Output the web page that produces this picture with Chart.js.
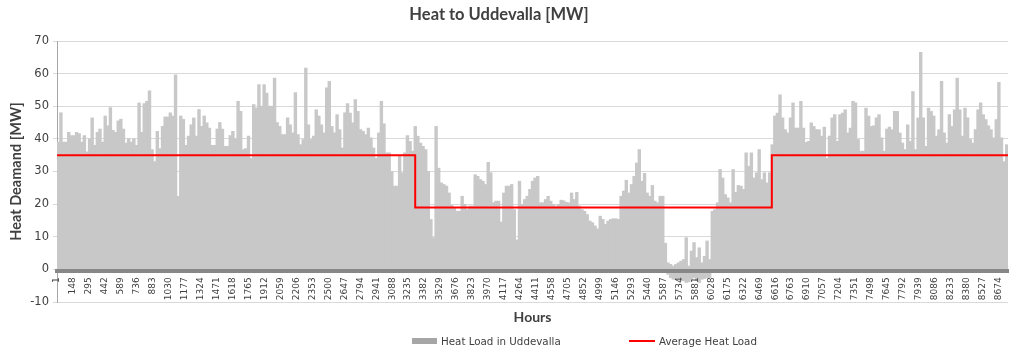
<!DOCTYPE html>
<html>
<head>
<meta charset="utf-8">
<script src="https://cdn.jsdelivr.net/npm/chart.js@4/dist/chart.umd.min.js"></script>
<style>
  html, body { margin: 0; padding: 0; background: #ffffff; }
  #wrap { position: relative; width: 1024px; height: 352px; overflow: hidden; }
  #c { position: absolute; left: 0; top: 0; }
  #title { position: absolute; left: 0; top: 4px; width: 998px; text-align: center;
           font: bold 16.5px Lato, sans-serif; color: #404040; line-height: 20px; }
  .lg-swatch { position: absolute; }
  .lg-text { position: absolute; font: 10.3px "DejaVu Sans", sans-serif; color: #404040; line-height: 12px; white-space: nowrap; }
</style>
</head>
<body>
<div id="wrap">
  <canvas id="c" width="1024" height="352"></canvas>
  <div id="title">Heat to Uddevalla [MW]</div>
  <div id="legend"></div>
</div>
<script>
// ---- data ----
// Daily peak heat load [MW], one value per day of the year (hour 1..8760)
const dayMax = [
  39, 48, 39, 39, 42, 41, 41, 42, 41.6, 39,
  41, 36, 40, 46.4, 38, 42, 43, 39, 47, 44,
  49.6, 42.6, 42, 45.5, 46, 43, 38.7, 40, 39, 40,
  38, 51, 42, 50.8, 51.5, 54.7, 36.7, 33, 42.3, 37,
  43.8, 46.7, 46.7, 48, 47, 59.6, 22.4, 47, 46, 38,
  40.8, 44.3, 46.4, 40.8, 49, 43.8, 47, 44.9, 43.3, 38,
  38, 43,
  45, 43, 37.7, 37.7, 41, 42.3, 40, 51.5,
  48.4, 36.7, 37, 40.8, 34, 50.5, 49.4, 56.6, 50, 56.6,
  54, 50, 50, 58.6, 45, 43.8, 41.3, 41.3, 46.4, 44.3,
  41.8, 54.2, 41.3, 38.2, 39.8, 61.7, 44.3, 39.8, 40.8, 48.9,
  47, 44.3, 41.8, 55.6, 57.6, 43.8, 41.8, 47.4, 42.8, 37.2,
  48, 50.8, 47.9, 44.9, 52, 48.4, 42.8, 42.3, 41.3, 43.3,
  40.3, 37.2, 34, 41.8, 51.5, 44.6, 35.7, 35.7, 30, 25.5,
  25.5, 34.7, 29.6, 35.7, 41, 39.2, 36.2, 43.8, 40.8,
  38.7, 37.7, 36.7, 30, 15.3, 9.7, 43.8, 31, 26.5, 26, 25.5,
  23.4, 19.6, 18.9, 17.8, 17.8, 22.4, 19.9, 18.3, 19.4, 19.4,
  29, 28.5, 27.5, 27, 26, 32.8, 29.6, 20.4, 20.9, 20.9,
  14.5, 23.4, 25.5, 25.5, 26, 18.3, 9, 27, 19.9, 21.4,
  22.4, 24.5, 27, 28, 28.5, 20.4, 20.4, 21.4, 22.4, 20.9,
  19.9, 19.4, 19.9, 21.2, 21, 20.5, 20.4, 23.4, 21.4, 23.6,
  19.4, 18.3, 17.8, 16.8, 14.8, 14.3, 13.3, 12.4, 16.3, 15.3,
  13.8, 14.8, 15.3, 15.5, 15.5, 15.3,
  22.4, 24, 27.3, 23.4,
  26, 28.5, 32.6, 36.7, 27, 29.4, 23.4, 22.4, 25.7, 20.9,
  20.4, 22.4, 22.4, 8, 2, 1.5, 1, 1.5, 2, 2.5,
  3, 9.7, 1, 5.6, 8.2, 3.6, 6.6, 2, 4, 8.7,
  3, 17.8, 18.3, 20.4, 30.6, 28, 22.9, 21.9, 20.4, 30.6,
  23.6, 25.7, 25.5, 24.5, 35.7, 31.6, 35.7, 28, 29.6, 36.7,
  27.5, 29.6, 26.5, 29.6, 38.2, 47, 47.9, 53.5, 46.4, 42.8,
  41.8, 46.4, 51, 43.3, 43.3, 51.5, 43.3, 38.9, 39.2, 44.9,
  43.8, 42.8, 42.8,
  40.8, 43.6, 34, 40.8, 46.4, 47.4, 39.2,
  47.4, 47.9, 48.9, 41.8, 43.3, 51.5, 51, 39.8, 36.2, 36.2,
  49.4, 47, 43.8, 44, 46.4, 47.4, 40.3, 36.2, 43, 43.6,
  42.8, 48.4, 48.4, 41.8, 38.7, 36.7, 44.3, 39.2, 54.5, 36.7,
  46.4, 66.5, 46.4, 37.7, 49.4, 48.4, 47, 40.8, 42.8, 57.6,
  41.8, 38.7, 47.4, 43.8, 48.9, 58.6, 48.9, 40.8, 49.4, 46.4,
  39.8, 38.7, 42.8, 48.9, 51, 47.4, 45.9, 44, 42.8, 40.3,
  45.9, 57.3, 40.3, 33, 38.2
];
// Days with negative hourly values (lowest value of the day), starting at day index lowStartDay
const lowStartDay = 234;
const lowValues = [-1.5, -2.5, -3, -3, -3.2, -3.5, -3.5, -4, -3.8, -3, -2.5, -3.5, -4, -3, -2.8, -2.5, -2.5, -1];
// Average heat load steps
const avgHours = [1, 3300, 6585, 8760];
const avgValues = [35, 19, 35, 35];
// Axis ticks
const hourTicks = [1, 148, 295, 442, 589, 736, 883, 1030, 1177, 1324, 1471, 1618, 1765, 1912, 2059, 2206, 2353, 2500, 2647, 2794,
  2941, 3088, 3235, 3382, 3529, 3676, 3823, 3970, 4117, 4264, 4411, 4558, 4705, 4852, 4999, 5146, 5293, 5440, 5587, 5734,
  5881, 6028, 6175, 6322, 6469, 6616, 6763, 6910, 7057, 7204, 7351, 7498, 7645, 7792, 7939, 8086, 8233, 8380, 8527, 8674];
const yTickValues = [-10, 0, 10, 20, 30, 40, 50, 60, 70];
const seriesNames = ['Heat Load in Uddevalla', 'Average Heat Load'];

// ---- build library structures ----
const dayLow = dayMax.map((_, i) => {
  const j = i - lowStartDay;
  return (j >= 0 && j < lowValues.length) ? lowValues[j] : 0;
});
const heatBars = dayMax.map((v, i) => ({ x: i * 24 + 12.5, y: [dayLow[i], v] }));
const avgLine = avgHours.map((h, i) => ({ x: h, y: avgValues[i] }));

const BAR_COLOR = '#c8c8c8';
const LEGEND_BAR_COLOR = '#a6a6a6';
const LINE_COLOR = '#ff0000';

const chart = new Chart(document.getElementById('c'), {
  data: {
    datasets: [
      {
        type: 'line', label: seriesNames[1], data: avgLine,
        borderColor: LINE_COLOR, backgroundColor: LINE_COLOR, borderWidth: 2,
        pointRadius: 0, stepped: true, fill: false, order: 1
      },
      {
        type: 'bar', label: seriesNames[0], data: heatBars,
        backgroundColor: BAR_COLOR, borderWidth: 0,
        barPercentage: 1, categoryPercentage: 1, inflateAmount: 0.4, grouped: false, order: 2
      }
    ]
  },
  options: {
    responsive: false,
    devicePixelRatio: 1,
    animation: false,
    events: [],
    layout: { padding: { left: 0, right: 16, top: 41, bottom: 50 } },
    plugins: { legend: { display: false }, title: { display: false }, tooltip: { enabled: false } },
    scales: {
      x: {
        type: 'linear',
        position: { y: -0.6 },
        offset: false,
        min: 0.5, max: 8760.5,
        afterBuildTicks: (s) => { s.ticks = hourTicks.map(v => ({ value: v })); },
        grid: { display: false, drawTicks: false, offset: false },
        border: { display: true, color: '#878787', width: 4, z: 1 },
        ticks: {
          autoSkip: false, minRotation: 90, maxRotation: 90, padding: 6, z: 1,
          font: { family: 'DejaVu Sans', size: 9 }, color: '#404040',
          callback: (v) => String(v)
        },
        title: {
          display: true, text: 'Hours', color: '#404040',
          font: { family: 'Lato', size: 14, weight: 'bold' }, padding: { top: 3, bottom: 0 }
        }
      },
      y: {
        type: 'linear',
        min: -10, max: 70,
        afterBuildTicks: (s) => { s.ticks = yTickValues.map(v => ({ value: v })); },
        afterFit: (s) => { s.width = 57; },
        grid: { color: '#d9d9d9', lineWidth: 1, tickLength: 4, drawTicks: true },
        border: { display: true, color: '#a6a6a6', width: 1 },
        ticks: { padding: 4, font: { family: 'DejaVu Sans', size: 11.5 }, color: '#404040' },
        title: {
          display: true, text: 'Heat Deamand [MW]', color: '#404040',
          font: { family: 'Lato', size: 14.5, weight: 'bold' }, padding: { top: 8, bottom: 0 }
        }
      }
    }
  }
});

// ---- HTML legend built from the chart's datasets ----
(function buildLegend() {
  const lg = document.getElementById('legend');
  const items = [
    { ds: chart.data.datasets[1], swatch: { left: 412, top: 338, width: 25, height: 6, color: LEGEND_BAR_COLOR }, textLeft: 441 },
    { ds: chart.data.datasets[0], swatch: { left: 629, top: 340, width: 26, height: 2, color: chart.data.datasets[0].borderColor }, textLeft: 659 }
  ];
  items.forEach(it => {
    const sw = document.createElement('div');
    sw.className = 'lg-swatch';
    Object.assign(sw.style, { left: it.swatch.left + 'px', top: it.swatch.top + 'px', width: it.swatch.width + 'px',
      height: it.swatch.height + 'px', background: it.swatch.color });
    lg.appendChild(sw);
    const tx = document.createElement('div');
    tx.className = 'lg-text';
    tx.style.left = it.textLeft + 'px';
    tx.style.top = '335px';
    tx.textContent = it.ds.label;
    lg.appendChild(tx);
  });
})();
</script>
</body>
</html>
